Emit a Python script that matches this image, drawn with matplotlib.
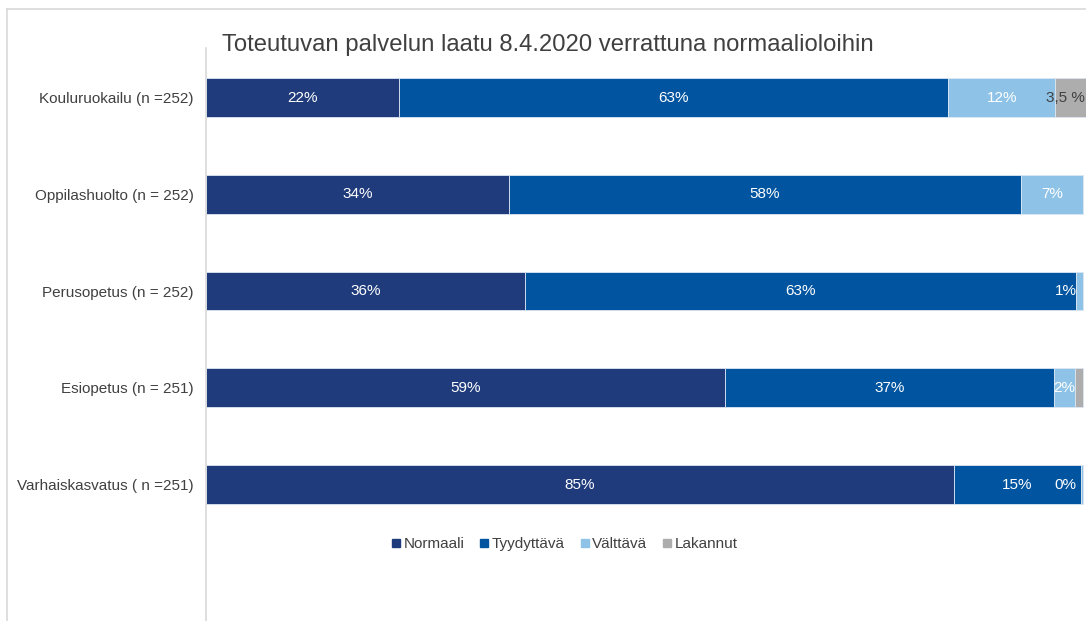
import matplotlib
matplotlib.use("Agg")
import matplotlib.pyplot as plt
from matplotlib.lines import Line2D
import numpy as np

plt.rcParams['font.family'] = ['Liberation Sans', 'DejaVu Sans']

# Data
categories = ["Kouluruokailu (n =252)", "Oppilashuolto (n = 252)", "Perusopetus (n = 252)",
              "Esiopetus (n = 251)", "Varhaiskasvatus ( n =251)"]
series = ["Normaali", "Tyydyttävä", "Välttävä", "Lakannut"]
normaali = [22.0, 34.5, 36.4, 59.2, 85.2]
tyydyttava = [62.6, 58.4, 62.8, 37.4, 14.5]
valttava = [12.2, 7.1, 0.8, 2.4, 0.3]
lakannut = [3.5, 0.0, 0.0, 1.0, 0.0]
labels_normaali = ["22%", "34%", "36%", "59%", "85%"]
labels_tyydyttava = ["63%", "58%", "63%", "37%", "15%"]
labels_valttava = ["12%", "7%", "1%", "2%", "0%"]
labels_lakannut = ["3,5 %", "", "", "", ""]

colors = ["#1f3b7b", "#01549f", "#8ec3e7", "#adadad"]
text_colors = ["white", "white", "white", "#404040"]

fig = plt.figure(figsize=(10.86, 6.21), dpi=100)
ax = fig.add_axes([206 / 1086, 0, 880 / 1086, 1 - 48 / 621])

y = np.arange(len(categories))
values = [normaali, tyydyttava, valttava, lakannut]
labels = [labels_normaali, labels_tyydyttava, labels_valttava, labels_lakannut]
left = np.zeros(len(categories))
for vals, labs, col, tcol, name in zip(values, labels, colors, text_colors, series):
    vals = np.array(vals)
    ax.barh(y, vals, left=left, height=0.4, color=col, edgecolor="#dce6f2",
            linewidth=0.6, label=name)
    for i, (v, lab) in enumerate(zip(vals, labs)):
        if lab == "":
            continue
        cx = min(left[i] + v / 2, 98.0)
        ax.text(cx, y[i], lab, ha="center", va="center", color=tcol, fontsize=11)
    left += vals

ax.set_xlim(0, 100.3)
ax.set_ylim(5.41, -0.512)
ax.set_yticks(y)
ax.set_yticklabels(categories, fontsize=11, color="#404040")
ax.tick_params(axis="y", length=0, pad=9)
ax.set_xticks([])
for s in ["top", "right", "bottom"]:
    ax.spines[s].set_visible(False)
ax.spines["left"].set_color("#d9d9d9")
ax.spines["left"].set_linewidth(1.2)

fig.text(222 / 1086, 1 - 45 / 621, "Toteutuvan palvelun laatu 8.4.2020 verrattuna normaalioloihin",
         ha="left", va="center", fontsize=17.2, color="#404040")

handles = [Line2D([], [], marker="s", linestyle="none", markersize=6, color=c) for c in colors]
fig.legend(handles, series, loc="center", bbox_to_anchor=(563 / 1086, 1 - 544 / 621),
           ncol=4, frameon=False, fontsize=11, handletextpad=0.0, columnspacing=0.8,
           handlelength=1.0, labelcolor="#404040")

# outer chart border
fig.add_artist(Line2D([7 / 1086, 1], [1 - 9 / 621, 1 - 9 / 621], color="#d9d9d9", linewidth=1.2))
fig.add_artist(Line2D([7 / 1086, 7 / 1086], [0, 1 - 9 / 621], color="#d9d9d9", linewidth=1.2))

fig.savefig("out.png", dpi=100)
